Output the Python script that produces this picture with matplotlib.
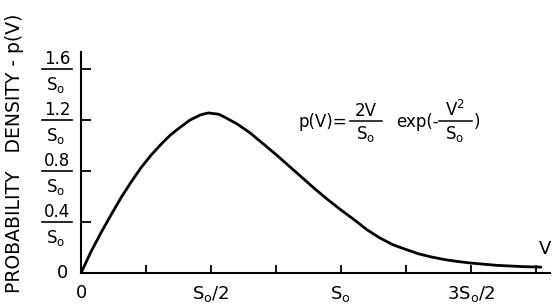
import matplotlib
matplotlib.use("Agg")
import matplotlib.pyplot as plt
from matplotlib.transforms import blended_transform_factory

plt.rcParams['font.family'] = ['DejaVu Sans']
plt.rcParams['mathtext.fontset'] = 'dejavusans'

# curve (V in units of S0, p in units of 1/S0)
v_vals = [0, 0.0385, 0.077, 0.116, 0.154, 0.193, 0.231, 0.270, 0.308, 0.344,
          0.38, 0.42, 0.46, 0.49, 0.53, 0.55, 0.60, 0.65, 0.70, 0.75, 0.80,
          0.85, 0.90, 0.95, 1.00, 1.05, 1.10, 1.15, 1.20, 1.25, 1.30, 1.35,
          1.40, 1.45, 1.50, 1.60, 1.70, 1.77]
p_vals = [0, 0.167, 0.316, 0.457, 0.590, 0.714, 0.826, 0.925, 1.009, 1.082,
          1.14, 1.20, 1.24, 1.255, 1.245, 1.225, 1.17, 1.10, 1.015, 0.93, 0.84,
          0.75, 0.66, 0.575, 0.495, 0.42, 0.34, 0.275, 0.222, 0.185, 0.15, 0.125,
          0.105, 0.09, 0.078, 0.06, 0.05, 0.046]

x_ticks = [0, 0.25, 0.5, 0.75, 1.0, 1.25, 1.5, 1.75]
x_labels = ['0', '', r'S$_\mathrm{o}$/2', '', r'S$_\mathrm{o}$', '', r'3S$_\mathrm{o}$/2', '']
y_ticks = [0, 0.4, 0.8, 1.2, 1.6]
y_nums = ['0.4', '0.8', '1.2', '1.6']

W, H = 552, 306


def fx(px):
    return px / W


def fy(py):
    return 1 - py / H


fig = plt.figure(figsize=(5.52, 3.06), dpi=100)
ax = fig.add_axes([fx(81), fy(273), fx(550) - fx(81), fy(52) - fy(273)])

ax.plot(v_vals, p_vals, color='black', lw=2.0, solid_capstyle='round')

ax.set_xlim(0, 1.805)
ax.set_ylim(0, 1.733)
for s in ['top', 'right']:
    ax.spines[s].set_visible(False)
for s in ['left', 'bottom']:
    ax.spines[s].set_linewidth(1.5)

ax.set_xticks(x_ticks)
ax.set_xticklabels(x_labels, fontsize=13)
ax.set_yticks(y_ticks)
ax.set_yticklabels([])
ax.tick_params(axis='x', direction='in', length=6, width=1.3, pad=8)
ax.tick_params(axis='y', direction='in', length=7, width=1.3)

# y tick labels drawn as stacked fractions
trans = blended_transform_factory(fig.transFigure, ax.transData)
ax.annotate('0', xy=(fx(62), 0), xycoords=trans, ha='center', va='center',
            fontsize=13, annotation_clip=False)
for val, num in zip(y_ticks[1:], y_nums):
    ax.annotate(num, xy=(fx(57), val), xycoords=trans, xytext=(0, 0.8),
                textcoords='offset points', ha='center', va='bottom',
                fontsize=12, annotation_clip=False)
    ax.annotate(r'S$_\mathrm{o}$', xy=(fx(56), val), xycoords=trans, xytext=(0, -4),
                textcoords='offset points', ha='center', va='top',
                fontsize=12, annotation_clip=False)
    ax.plot([fx(42), fx(72)], [val, val], transform=trans, color='black',
            lw=1.2, clip_on=False)

ax.set_xlim(0, 1.805)
ax.set_ylim(0, 1.733)

fig.text(fx(15), fy(153), 'PROBABILITY   DENSITY - p(V)', rotation=90,
         ha='center', va='center', fontsize=13.5)

fig.text(fx(545), fy(249), 'V', ha='center', va='center', fontsize=13)

# formula p(V) = 2V/So exp(-V^2/So)
fs = 12
fig.text(fx(298), fy(122), 'p(V)=', ha='left', va='center', fontsize=fs)
fig.text(fx(366), fy(120), '2V', ha='center', va='bottom', fontsize=fs)
fig.text(fx(366), fy(124), r'S$_\mathrm{o}$', ha='center', va='top', fontsize=fs)
fig.add_artist(plt.Line2D([fx(350), fx(382)], [fy(121), fy(121)], color='black', lw=1.1))
fig.text(fx(396), fy(122), 'exp(-', ha='left', va='center', fontsize=fs)
fig.text(fx(455), fy(120), r'V$^2$', ha='center', va='bottom', fontsize=fs)
fig.text(fx(455), fy(124), r'S$_\mathrm{o}$', ha='center', va='top', fontsize=fs)
fig.add_artist(plt.Line2D([fx(439), fx(472)], [fy(121), fy(121)], color='black', lw=1.1))
fig.text(fx(474), fy(122), ')', ha='left', va='center', fontsize=fs)

fig.savefig('out.png', dpi=100)
